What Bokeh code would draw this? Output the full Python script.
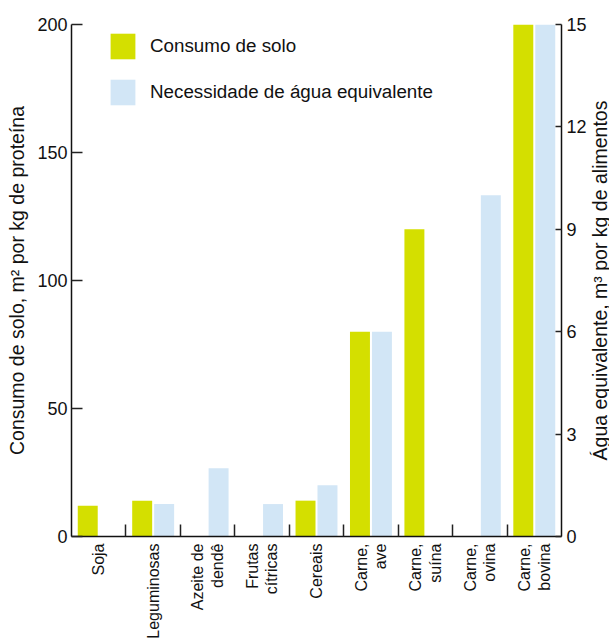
import math
from bokeh.plotting import figure
from bokeh.layouts import row
from bokeh.models import (Range1d, LinearAxis, FixedTicker, ColumnDataSource,
                          Legend, LegendItem)
from bokeh.transform import dodge
from bokeh.embed import file_html
from bokeh.resources import INLINE
from bokeh.core.properties import value

# ---- data ----
categories = ["Soja", "Leguminosas", "Azeite de\ndendê", "Frutas\ncítricas", "Cereais",
              "Carne,\nave", "Carne,\nsuína", "Carne,\novina", "Carne,\nbovina"]
land_use = [12, 14, 0, 0, 14, 80, 120, 0, 200]          # m² por kg de proteína
water_use = [0, 0.95, 2.0, 0.95, 1.5, 6.0, 0, 10.0, 15.0]  # m³ por kg de alimentos
land_ticks = [0, 50, 100, 150, 200]
water_ticks = [0, 3, 6, 9, 12, 15]
series_names = ["Consumo de solo", "Necessidade de água equivalente"]
left_title = "Consumo de solo, m² por kg de proteína"
right_title = "Água equivalente, m³ por kg de alimentos"

# ---- styles ----
GREEN = "#d4df00"
BLUE = "#d2e6f6"
INK = "#111111"
FONT = "Liberation Sans"

n = len(categories)
centers = [i + 0.5 for i in range(n)]
boundaries = list(range(1, n))
src = ColumnDataSource(dict(x=centers, land=land_use, water=water_use))

p = figure(width=589, height=641, output_backend="svg", toolbar_location=None,
           x_range=Range1d(0, n), y_range=Range1d(0, land_ticks[-1]),
           x_axis_type=None, y_axis_type=None,
           min_border_left=71, min_border_right=27, min_border_top=24, min_border_bottom=103)
p.extra_y_ranges = {"water": Range1d(0, water_ticks[-1])}
p.outline_line_color = None
p.xgrid.visible = False
p.ygrid.visible = False
p.background_fill_color = "white"
p.border_fill_color = "white"

off = 0.2017
bw = 0.3667
g = p.vbar(x=dodge("x", -off, range=p.x_range), top="land", width=bw, source=src,
           fill_color=GREEN, line_color=None)
b = p.vbar(x=dodge("x", off, range=p.x_range), top="water", width=bw, source=src,
           fill_color=BLUE, line_color=None, y_range_name="water")

def style_axis(ax, tick_in):
    ax.axis_line_color = INK
    ax.axis_line_width = 1.5
    ax.major_tick_line_color = "#222222"
    ax.major_tick_line_width = 1.5
    ax.major_tick_in = tick_in
    ax.major_tick_out = 0
    ax.minor_tick_line_color = None
    ax.major_label_text_font = FONT
    ax.major_label_text_font_size = "18px"
    ax.major_label_text_color = INK

left = LinearAxis(ticker=FixedTicker(ticks=land_ticks), axis_label=left_title)
style_axis(left, 11)
left.major_label_standoff = 4
left.axis_label_standoff = 6
left.axis_label_text_font = FONT
left.axis_label_text_font_size = "19.5px"
left.axis_label_text_font_style = "normal"
left.axis_label_text_color = INK
p.add_layout(left, "left")

right = LinearAxis(y_range_name="water", ticker=FixedTicker(ticks=water_ticks))
style_axis(right, 6)
right.major_label_standoff = 5
p.add_layout(right, "right")

bottom = LinearAxis(ticker=FixedTicker(ticks=centers, minor_ticks=boundaries),
                    major_label_overrides={c: name for c, name in zip(centers, categories)})
style_axis(bottom, 0)
bottom.minor_tick_line_color = "#222222"
bottom.minor_tick_line_width = 1.5
bottom.minor_tick_in = 12
bottom.minor_tick_out = 0
bottom.major_label_orientation = math.pi / 2
bottom.major_label_standoff = 7
bottom.major_label_text_font_size = "16px"
bottom.major_label_text_line_height = 1.15
p.add_layout(bottom, "below")

legend = Legend(items=[LegendItem(label=series_names[0], renderers=[g]),
                       LegendItem(label=series_names[1], renderers=[b])],
                location=(36, 428), orientation="vertical")
legend.glyph_width = 31
legend.glyph_height = 32
legend.label_standoff = 12
legend.spacing = 14
legend.padding = 0
legend.margin = 0
legend.border_line_color = None
legend.background_fill_alpha = 0
legend.label_text_font = FONT
legend.label_text_font_size = "18.8px"
legend.label_text_color = INK
p.add_layout(legend)

# narrow strip on the right holding the right-hand axis title (reads bottom-to-top)
p2 = figure(width=20, height=641, output_backend="svg", toolbar_location=None,
            x_range=Range1d(0, 1), y_range=p.y_range,
            x_axis_type=None, y_axis_type=None,
            min_border_left=0, min_border_right=0, min_border_top=24, min_border_bottom=103)
p2.outline_line_color = None
p2.background_fill_color = "white"
p2.border_fill_color = "white"
p2.text(x=[0.5], y=[land_ticks[-1] / 2], text=[right_title], angle=math.pi / 2,
        text_align="center", text_baseline="middle", text_font=value(FONT),
        text_font_size="19.5px", text_color=INK)

layout = row(p, p2)
open("out.html", "w").write(file_html(layout, INLINE))
